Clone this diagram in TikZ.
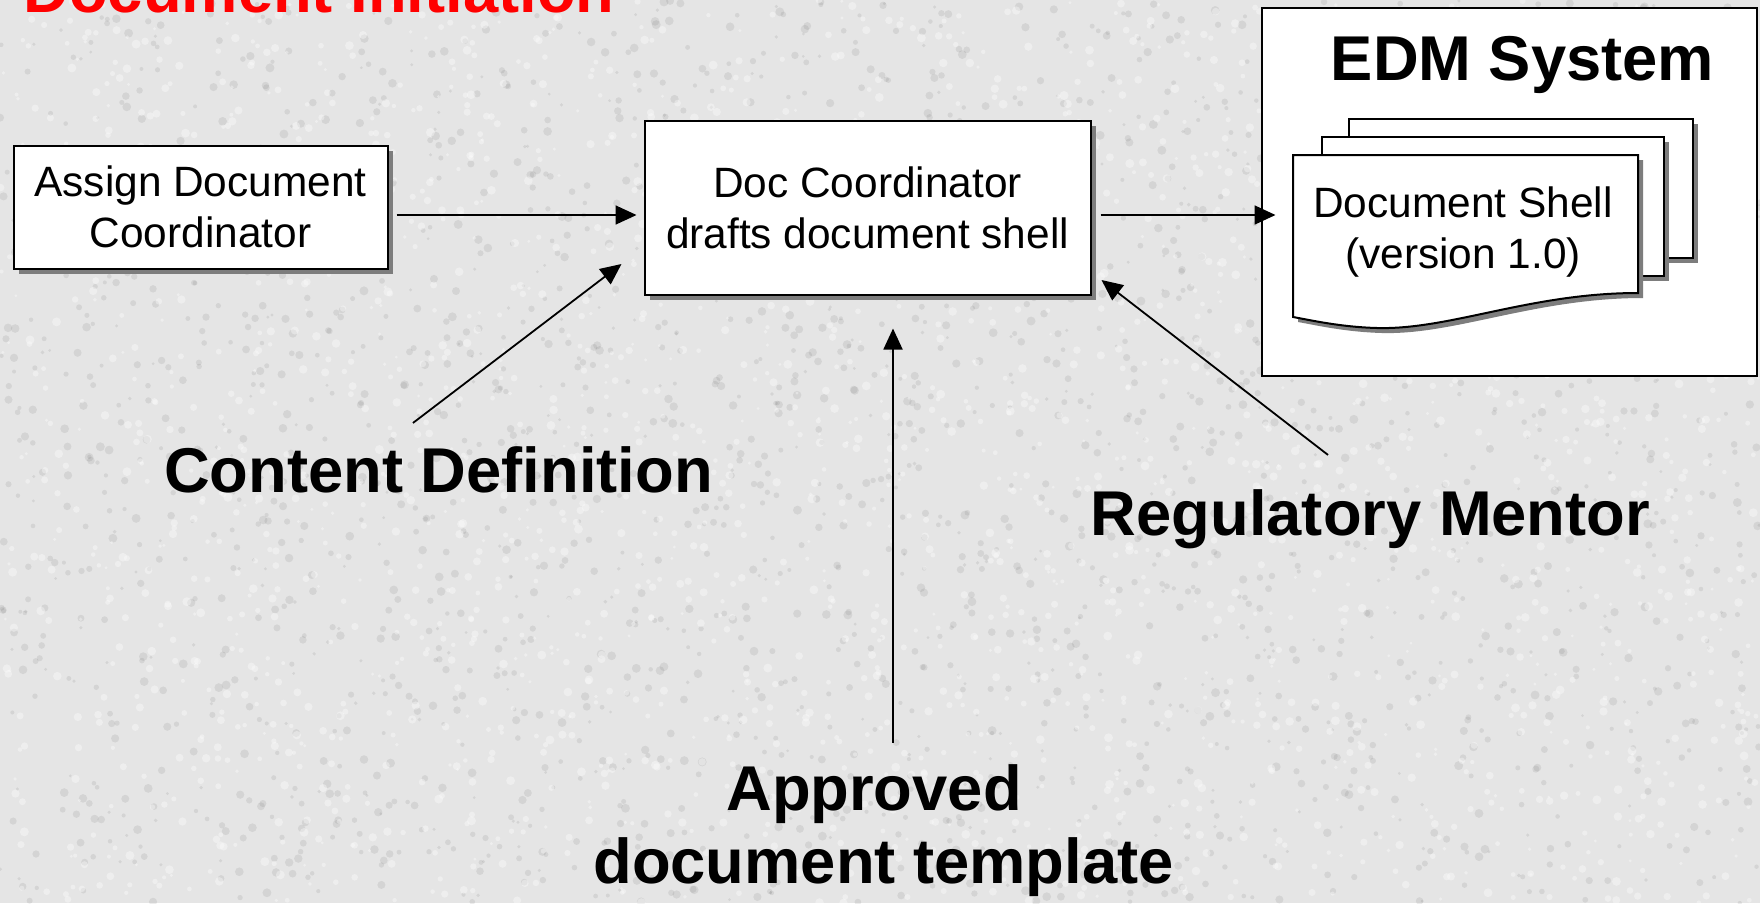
\documentclass[tikz,border=0pt]{standalone}
\usepackage{fontspec}
\setmainfont{Liberation Sans}
\usetikzlibrary{arrows.meta,calc,shadows}
\definecolor{bgc}{RGB}{229,229,229}
\definecolor{shd}{RGB}{125,125,125}
\definecolor{titlered}{RGB}{255,0,0}
\tikzset{
  boxtext/.style={font=\fontsize{42.4}{51}\selectfont, align=center, text=black},
  procbox/.style={draw=black, line width=2pt, fill=white, boxtext, inner sep=0pt,
    drop shadow={shadow xshift=5pt, shadow yshift=-5pt, fill=shd, opacity=1}},
  biglabel/.style={font=\fontsize{63.3}{73}\selectfont\bfseries, inner sep=0pt, anchor=base},
  arr/.style={line width=1.8pt, -{Triangle[length=21pt,width=19pt]}},
  page/.style={draw=black, line width=2pt, fill=white},
  pageshadow/.style={fill=shd, draw=none}
}
\begin{document}
\begin{tikzpicture}[x=1pt,y=-1pt]
\useasboundingbox (0,0) rectangle (1760,903);
\clip (0,0) rectangle (1760,903);
% background texture
\fill[bgc] (0,0) rectangle (1760,903);
\pgfmathsetseed{7}
\foreach \i in {1,...,2500}{
  \pgfmathsetmacro\xx{rnd*1760}\pgfmathsetmacro\yy{rnd*903}\pgfmathsetmacro\rr{1.5+rnd*3}
  \fill[black, opacity=0.07] (\xx,\yy) circle (\rr pt);
}
\foreach \i in {1,...,2500}{
  \pgfmathsetmacro\xx{rnd*1760}\pgfmathsetmacro\yy{rnd*903}\pgfmathsetmacro\rr{1.5+rnd*3}
  \fill[white, opacity=0.35] (\xx,\yy) circle (\rr pt);
}

% title (cut off at the top)
\node[anchor=base west, inner sep=0pt, text=titlered, font=\fontsize{63.3}{73}\selectfont\bfseries] (title) at (23.4,12) {Document Initiation};

% process boxes
\node[procbox, minimum width=374pt, minimum height=123pt] (asg) at (200.5,207) {Assign Document\\Coordinator};
\node[procbox, minimum width=446pt, minimum height=174pt] (doc) at (867.5,207.5) {Doc Coordinator\\drafts document shell};

% EDM system container
\node[draw=black, line width=2pt, fill=white, minimum width=495pt, minimum height=368pt, inner sep=0pt] (edm) at (1509,191.5) {};
\node[biglabel] (edmtitle) at (1522.5,80) {EDM System};

% stacked document pages
\fill[pageshadow] (1354,124) rectangle (1698,263);
\draw[page] (1349,119) rectangle (1693,258);
\fill[pageshadow] (1327,142) rectangle (1669,281);
\draw[page] (1322,137) rectangle (1664,276);
\fill[pageshadow, shift={(5,5)}] (1293,155) -- (1638,155) -- (1638,293)
  .. controls (1530,293) and (1450,330) .. (1377,328)
  .. controls (1340,327) and (1310,320) .. (1293,317) -- cycle;
\draw[page] (1293,155) -- (1638,155) -- (1638,293)
  .. controls (1530,293) and (1450,330) .. (1377,328)
  .. controls (1340,327) and (1310,320) .. (1293,317) -- cycle;
\node[boxtext, inner sep=0pt] (shell) at (1463,232.2) {Document Shell\\(version 1.0)};

% labels
\node[biglabel] (cd) at (438.5,492) {Content Definition};
\node[biglabel] (reg) at (1370.5,535) {Regulatory Mentor};
\node[biglabel] (appr) at (874,810) {Approved};
\node[biglabel] (tmpl) at (883.5,883) {document template};

% connectors
\draw[arr] ($(asg.east)+(8,8)$) -- ($(doc.west)+(-7,7.5)$);
\draw[arr] ($(doc.east)+(9,7.5)$) -- ($(edm.west)+(15,23.5)$);
\draw[arr] ($(cd.north)+(-25.5,-23)$) -- ($(doc.west)+(-22,56.5)$);
\draw[arr] ($(appr.north)+(19,-21)$) -- ($(doc.south)+(25.5,33)$);
\draw[arr] ($(reg.north)+(-42.5,-34)$) -- ($(doc.east)+(10,72.5)$);
\end{tikzpicture}
\end{document}
